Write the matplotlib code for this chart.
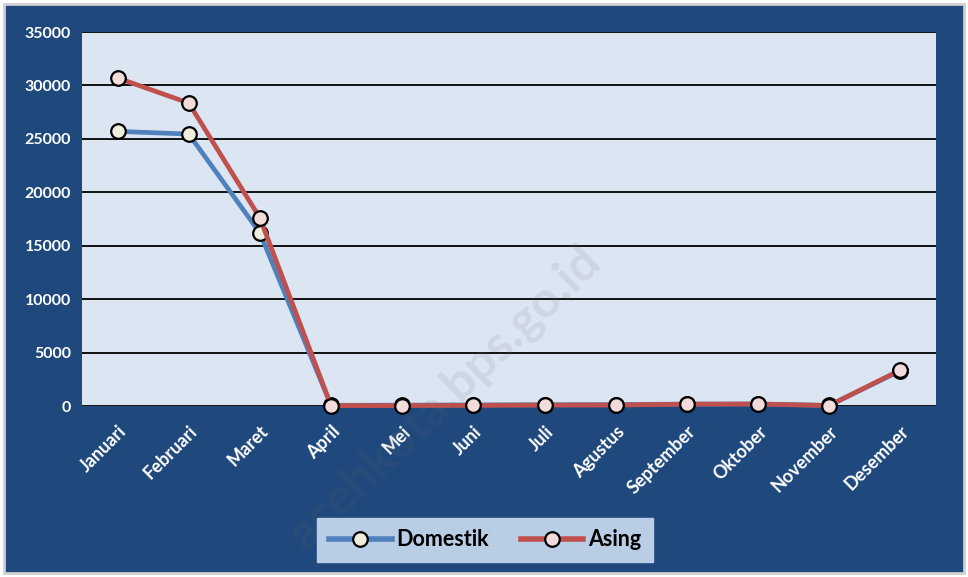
import matplotlib
matplotlib.use("Agg")
import matplotlib.pyplot as plt
from matplotlib.patches import Rectangle

months = ["Januari", "Februari", "Maret", "April", "Mei", "Juni", "Juli",
          "Agustus", "September", "Oktober", "November", "Desember"]
domestik = [25700, 25450, 16200, 60, 80, 100, 120, 130, 180, 190, 60, 3300]
asing = [30700, 28350, 17600, 30, 40, 60, 80, 90, 170, 180, 40, 3370]
yticks = [0, 5000, 10000, 15000, 20000, 25000, 30000, 35000]

plt.rcParams['font.family'] = ['Lato', 'DejaVu Sans']

fig = plt.figure(figsize=(9.68, 5.77), dpi=100)
fig.patch.set_facecolor('white')
fig.add_artist(Rectangle((4/968, 4/577), 960/968, 569/577, transform=fig.transFigure,
                         facecolor='#1F497D', edgecolor='#D0D0D0', linewidth=2, zorder=0))

ax = fig.add_axes([82/968, 1-406/577, 854/968, 374/577])
ax.set_facecolor('#DCE6F2')
x = list(range(len(months)))
ax.plot(x, domestik, color='#4F81BD', lw=3.4, marker='o', ms=10.5,
        mfc='#EEEEDD', mec='black', mew=1.6, label='Domestik', zorder=3, clip_on=False)
ax.plot(x, asing, color='#C0504D', lw=3.4, marker='o', ms=10.5,
        mfc='#F2DCDB', mec='black', mew=1.6, label='Asing', zorder=4, clip_on=False)

ax.set_xlim(-0.5, 11.5)
ax.set_ylim(0, 35000)
ax.set_yticks(yticks)
ax.set_yticklabels([str(v) for v in yticks], color='white', fontsize=11.5, fontweight='bold')
ax.set_xticks(x)
ax.set_xticklabels(months, rotation=45, ha='right', rotation_mode='anchor',
                   color='white', fontsize=13, fontweight='bold')
ax.tick_params(length=0, pad=8)
ax.tick_params(axis='x', pad=12)
ax.yaxis.grid(True, color='black', lw=1.3)
ax.set_axisbelow(True)
for s in ax.spines.values():
    s.set_visible(False)

leg = fig.legend(loc='center', bbox_to_anchor=(485/968, 1-540/577), ncol=2,
                 frameon=True, fancybox=False, handlelength=2.9,
                 columnspacing=1.5, borderpad=0.55, handletextpad=0.2,
                 prop={'weight': 'bold', 'size': 15.5})
leg.get_frame().set_facecolor('#B9CDE5')
leg.get_frame().set_edgecolor('#B9CDE5')
leg.get_frame().set_alpha(1)
for line in leg.get_lines():
    line.set_linewidth(4)

fig.text(0.46, 0.31, 'acehkota.bps.go.id', rotation=44, fontsize=36, fontweight='bold',
         color='#666666', alpha=0.12, ha='center', va='center')

fig.savefig('out.png', dpi=100, facecolor=fig.get_facecolor())
